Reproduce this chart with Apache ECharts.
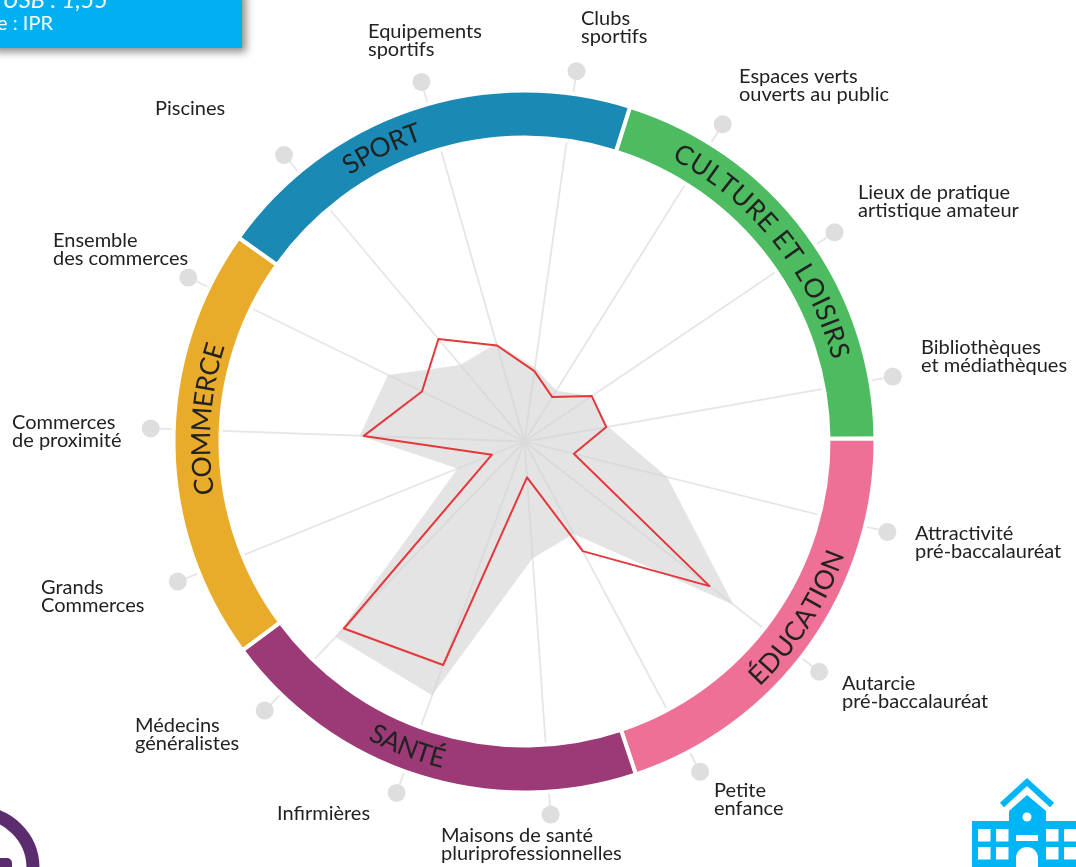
<!DOCTYPE html>
<html><head><meta charset="utf-8">
<style>html,body{margin:0;padding:0;background:#fff}#c{width:1076px;height:867px}</style>
<script src="https://cdn.jsdelivr.net/npm/echarts@6/dist/echarts.min.js"></script>
</head><body><div id="c"></div>
<script>
// Axes, counter-clockwise from "Clubs sportifs"
const axisLabels = ['Clubs\nsportifs','Equipements\nsportifs','Piscines','Ensemble\ndes commerces','Commerces\nde proximité','Grands\nCommerces','Médecins\ngénéralistes','Infirmières','Maisons de santé\npluriprofessionnelles','Petite\nenfance','Autarcie\npré-baccalauréat','Attractivité\npré-baccalauréat','Bibliothèques\net médiathèques','Lieux de pratique\nartistique amateur','Espaces verts\nouverts au public'];
const territoryValues = [19,26.7,35.8,30.5,43,9.4,69.5,63.6,9.6,33.2,62.8,13.6,22.2,21.7,14];
const referenceValues = [20,27.3,26.7,40.6,44.1,19.3,72.7,72.2,31.3,28,70.9,39.3,22.7,21.7,16];
const outerDots = [100,100,100,100,100,100,100,100,100,100,100,100,100,100,100];
// Ring, clockwise from the top-right gap
const groupNames = ['CULTURE ET LOISIRS','ÉDUCATION','SANTÉ','COMMERCE','SPORT'];
const groupAxisCounts = [3,3,3,3,3];
const groupColors = ['#4dbb5f','#ee7095','#9b3a76','#e9ab2a','#1a8ab5'];

const labelPos = [[581,9],[368,22],[155,99],[53,231],[12,413],[41,578],[135,716],[277,804],[441,826],[714,781],[842,674],[915,524],[921,338],[858,183],[739,67]];
const cx = 524.5, cy = 441.5;
const ringLetters = [
  {angle:51, up:false, r:327, k:1.06},{angle:123, up:true, r:331, k:1},{angle:201, up:true, r:328, k:0.93},{angle:274, up:false, r:323, k:1},{angle:334, up:false, r:327, k:1}
];
const ringFont = '26.5px Lato';
const labelFont = '20px Lato';

const graphics = [];
axisLabels.forEach((t,i)=>graphics.push({type:'text',x:labelPos[i][0],y:labelPos[i][1],z:10,
  style:{text:t,font:labelFont,lineHeight:18.5,fill:'#222',textVerticalAlign:'top'}}));

const ctx = document.createElement('canvas').getContext('2d');
ctx.font = ringFont;
groupNames.forEach((name,g)=>{
  const {angle,up,r:ringR,k:spread} = ringLetters[g];
  const total = ctx.measureText(name).width;
  const dir = up ? -1 : 1;
  let run = 0;
  for (let k=0;k<name.length;k++){
    const w = ctx.measureText(name[k]).width;
    const mid = spread*(run + w/2 - total/2)/ringR * 180/Math.PI;
    const th = angle + dir*mid;
    const rad = th*Math.PI/180;
    const rot = up ? -(th-180)*Math.PI/180 : -rad;
    graphics.push({type:'text',x:cx+ringR*Math.sin(rad),y:cy-ringR*Math.cos(rad),rotation:rot,z:10,
      style:{text:name[k],font:ringFont,fill:'#222',textAlign:'center',textVerticalAlign:'middle'}});
    run += w;
  }
});

// Top-left info box (cropped by the window)
graphics.push({type:'rect',shape:{x:-10,y:-10,width:252,height:58},z:8,
  style:{fill:'#00b0f0',shadowBlur:8,shadowOffsetX:4,shadowOffsetY:4,shadowColor:'rgba(0,0,0,0.45)'}});
graphics.push({type:'text',x:108,y:-11,z:9,style:{text:'USB : 1,55',font:'italic 23.5px Lato',fill:'#fff',textAlign:'right',textVerticalAlign:'top'}});
graphics.push({type:'text',x:53,y:14,z:9,style:{text:'Source : IPR',font:'20px Lato',fill:'#fff',textAlign:'right',textVerticalAlign:'top'}});

// Bottom-left cropped logo
graphics.push({type:'circle',shape:{cx:-22,cy:868,r:55},z:8,style:{fill:'none',stroke:'#5c2d6e',lineWidth:13}});
graphics.push({type:'rect',shape:{x:-10,y:858,width:22,height:20,r:5},z:8,style:{fill:'#5c2d6e'}});

// Bottom-right school icon
const blue='#00b5f5', paper='#fff';
graphics.push({type:'polyline',shape:{points:[[1002,805],[1027,782],[1052,805]]},z:8,style:{fill:'none',stroke:blue,lineWidth:6}});
graphics.push({type:'polygon',shape:{points:[[1009,822],[1009,811],[1027,795],[1046,811],[1046,822]]},z:8,style:{fill:blue}});
graphics.push({type:'rect',shape:{x:972,y:821,width:110,height:50},z:8,style:{fill:blue}});
graphics.push({type:'circle',shape:{cx:1027,cy:817,r:4.5},z:9,style:{fill:paper}});
[[978,829],[996,829],[1046,829],[1064,829],[978,847],[996,847],[1046,847],[1064,847]].forEach(p=>
  graphics.push({type:'rect',shape:{x:p[0],y:p[1],width:p[0]===1064?14:12.5,height:12.5},z:9,style:{fill:paper}}));
graphics.push({type:'rect',shape:{x:1016,y:835,width:22,height:6},z:9,style:{fill:paper}});
graphics.push({type:'rect',shape:{x:1016,y:847,width:22,height:24,r:[11,11,0,0]},z:9,style:{fill:paper}});

const chart = echarts.init(document.getElementById('c'),null,{renderer:'canvas'});
chart.setOption({
  animation:false,
  backgroundColor:'#fff',
  radar:{
    center:[cx,cy],radius:374,startAngle:82,shape:'circle',splitNumber:1,
    indicator:axisLabels.map(n=>({name:n,min:0,max:100})),
    axisName:{show:false},axisTick:{show:false},axisLabel:{show:false},
    splitLine:{show:false},splitArea:{show:false},
    axisLine:{lineStyle:{color:'#e6e6e6',width:1.8}}
  },
  series:[
    {type:'radar',z:1,silent:true,symbol:'none',lineStyle:{width:0},areaStyle:{color:'#d2d2d2',opacity:0.6},
     data:[{value:referenceValues}]},
    {type:'radar',z:3,silent:true,symbol:'none',lineStyle:{color:'#e5383b',width:2},
     data:[{value:territoryValues}]},
    {type:'radar',z:3,silent:true,symbol:'circle',symbolSize:18,itemStyle:{color:'#dedede'},lineStyle:{width:0},
     data:[{value:outerDots}]},
    {type:'pie',z:5,silent:true,center:[cx,cy],radius:[304,351],startAngle:72.5,
     label:{show:false},labelLine:{show:false},
     itemStyle:{borderColor:'#fff',borderWidth:4},
     data:groupNames.map((n,i)=>({name:n,value:groupAxisCounts[i],itemStyle:{color:groupColors[i],borderColor:'#fff',borderWidth:4}}))}
  ],
  graphic:graphics
});
</script></body></html>
